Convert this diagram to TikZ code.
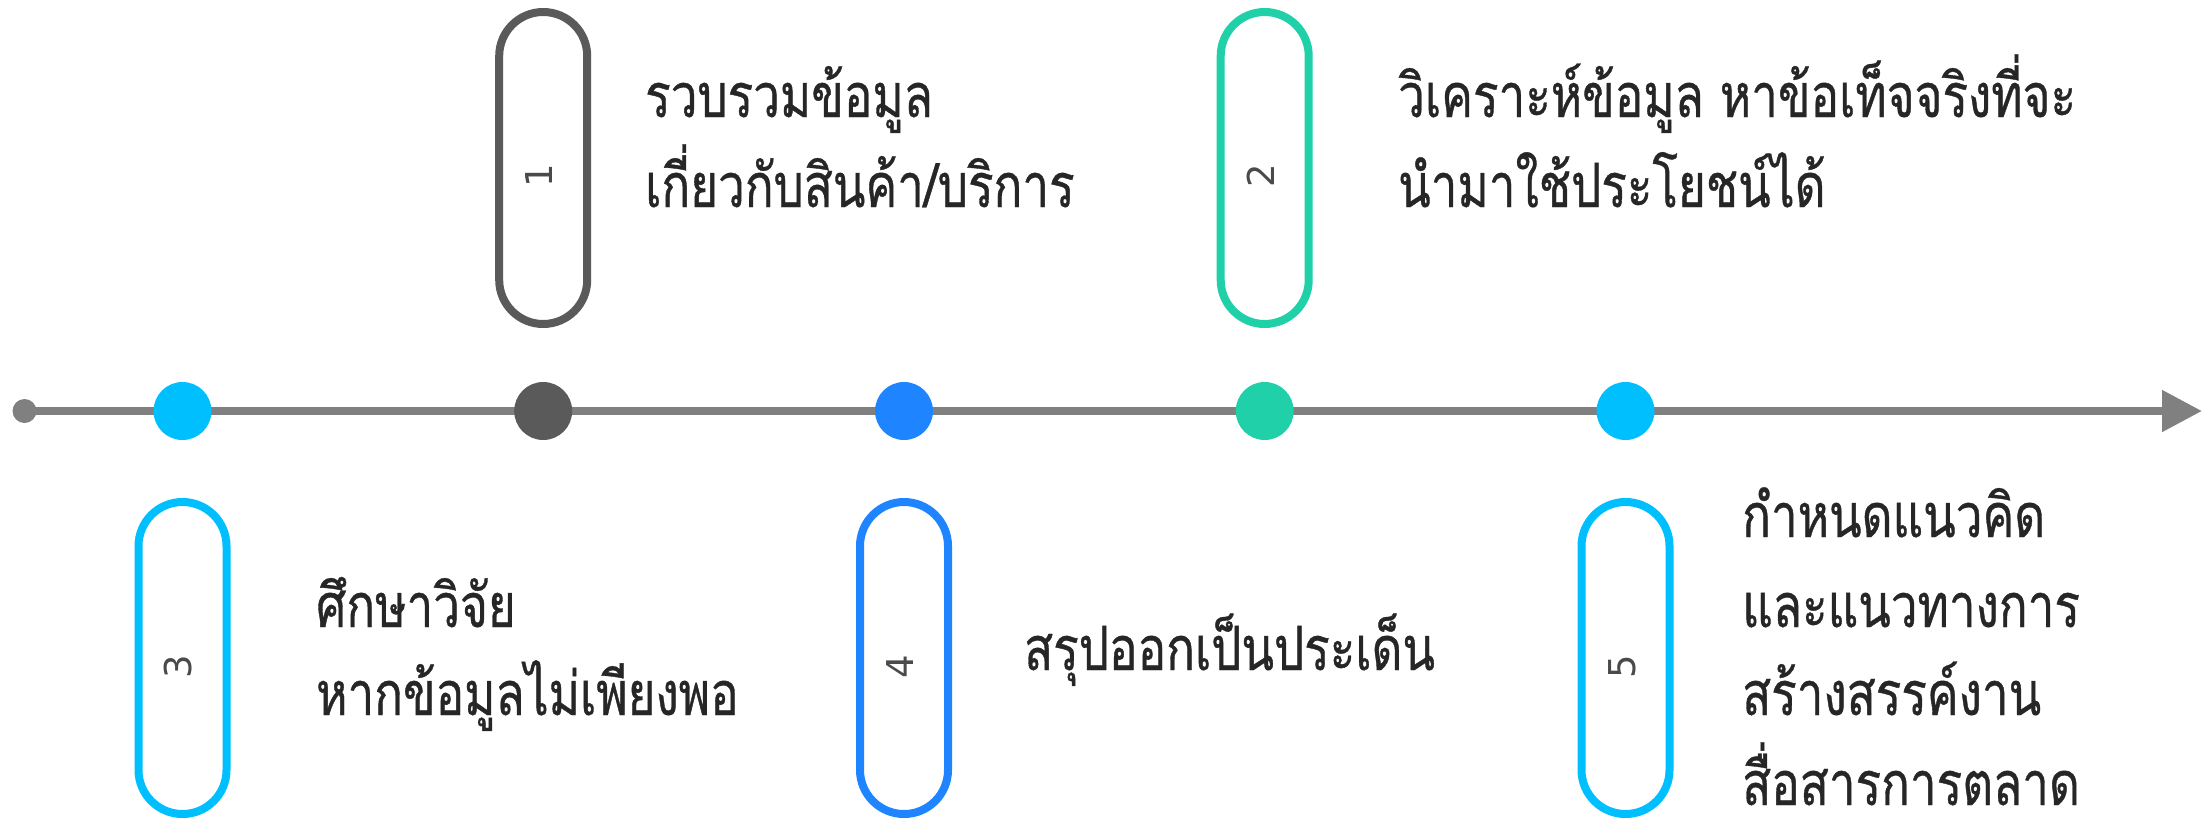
\documentclass[tikz,border=0pt]{standalone}
\usepackage{fontspec}
\newfontfamily\thaifont[Script=Thai,FakeStretch=0.78,FakeBold=0.6]{Loma}
\newfontfamily\digitfont{DejaVu Sans}
\usetikzlibrary{arrows.meta}
\definecolor{axisgray}{HTML}{808080}
\definecolor{darkc}{HTML}{5A5A5A}
\definecolor{cyanc}{HTML}{00BFFF}
\definecolor{bluec}{HTML}{1E84FF}
\definecolor{greenc}{HTML}{20D0A8}
\definecolor{txtc}{HTML}{262626}
\definecolor{numc}{HTML}{4A4A4A}
\tikzset{
  dot/.style={circle, minimum size=58pt, inner sep=0pt},
  pill/.style={rectangle, rounded corners=44pt, line width=8pt, minimum width=88pt, minimum height=312pt, inner sep=0pt},
  thai/.style={font=\thaifont\fontsize{61}{61}\selectfont, text=txtc, anchor=base west, inner sep=0pt},
  num/.style={font=\digitfont\fontsize{37}{37}\selectfont, text=numc, rotate=90, inner sep=0pt}
}
\begin{document}
\begin{tikzpicture}[x=1pt,y=-1pt]
\useasboundingbox (0,0) rectangle (2203,817);
% axis
\node[circle, fill=axisgray, minimum size=24pt, inner sep=0pt] (start) at (24.5,411) {};
\coordinate (axisend) at (2202,411);
\draw[line width=8pt, axisgray, -{Triangle[length=40pt,width=40pt]}] (start.center) -- (axisend);
% dots
\node[dot, fill=cyanc] (d1) at (182.5,411) {};
\node[dot, fill=darkc] (d2) at (543.2,411) {};
\node[dot, fill=bluec] (d3) at (904,411) {};
\node[dot, fill=greenc] (d4) at (1264.7,411) {};
\node[dot, fill=cyanc] (d5) at (1625.5,411) {};
% pills
\node[pill, draw=darkc] (p1) at (543.2,168) {};
\node[pill, draw=greenc] (p2) at (1264.7,168) {};
\node[pill, draw=cyanc] (p3) at (182.5,658) {};
\node[pill, draw=bluec] (p4) at (904,658) {};
\node[pill, draw=cyanc] (p5) at (1625.5,658) {};
% numbers
\node[num] (n1) at ([shift={(-4,8)}]p1.center) {1};
\node[num] (n2) at ([shift={(-4,8)}]p2.center) {2};
\node[num] (n3) at ([shift={(-4,8.5)}]p3.center) {3};
\node[num] (n4) at ([shift={(-4,8.5)}]p4.center) {4};
\node[num] (n5) at ([shift={(-3,8.5)}]p5.center) {5};
% texts
\node[thai] (t1a) at (645,117) {รวบรวมข้อมูล};
\node[thai] (t1b) at (645,207) {เกี่ยวกับสินค้า/บริการ};
\node[thai] (t2a) at (1398,117) {วิเคราะห์ข้อมูล หาข้อเท็จจริงที่จะ};
\node[thai] (t2b) at (1398,207) {นำมาใช้ประโยชน์ได้};
\node[thai] (t3a) at (316,627) {ศึกษาวิจัย};
\node[thai] (t3b) at (316,715) {หากข้อมูลไม่เพียงพอ};
\node[thai] (t4) at (1024,670) {สรุปออกเป็นประเด็น};
\node[thai] (t5a) at (1742,537) {กำหนดแนวคิด};
\node[thai] (t5b) at (1742,627) {และแนวทางการ};
\node[thai] (t5c) at (1742,715) {สร้างสรรค์งาน};
\node[thai] (t5d) at (1742,805) {สื่อสารการตลาด};
\end{tikzpicture}
\end{document}
